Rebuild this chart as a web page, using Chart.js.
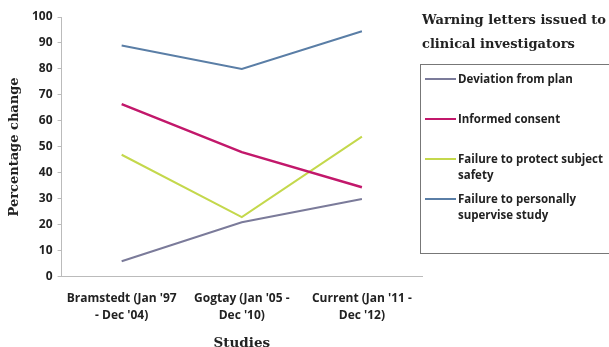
<!DOCTYPE html>
<html>
<head>
<meta charset="utf-8">
<script src="https://cdn.jsdelivr.net/npm/chart.js@4/dist/chart.umd.min.js"></script>
<style>
  html, body { margin: 0; padding: 0; background: #fff; }
  #wrap { position: relative; width: 609px; height: 347px; overflow: hidden; }
  #legendTitle {
    position: absolute; left: 422px; top: 8px; width: 190px;
    font: bold 13px "DejaVu Serif", serif; color: #222; line-height: 24px;
  }
  #legendBox {
    position: absolute; left: 420px; top: 64px; width: 200px; height: 190px;
    border: 1px solid #777; box-sizing: border-box;
  }
  .item { position: absolute; left: 4px; width: 196px; font: bold 11.5px "Open Sans", sans-serif; color: #222; line-height: 16px; white-space: nowrap; }
  .item .swatch { position: absolute; left: 0; top: 7px; width: 31px; height: 2px; }
  .item .txt { margin-left: 33px; display: block; }
</style>
</head>
<body>
<div id="wrap">
  <canvas id="chart" width="609" height="347"></canvas>
  <div id="legendTitle">Warning letters issued to<br>clinical investigators</div>
  <div id="legendBox"></div>
</div>
<script>
// categorias (estudos)
const studies = [
  ["Bramstedt (Jan '97", "- Dec '04)"],
  ["Gogtay (Jan '05 -", "Dec '10)"],
  ["Current (Jan '11 -", "Dec '12)"]
];

// séries
const seriesNames = [
  "Deviation from plan",
  "Informed consent",
  "Failure to protect subject<br>safety",
  "Failure to personally<br>supervise study"
];
const deviation = [6, 21, 30];
const informedConsent = [66.5, 48, 34.5];
const protectSafety = [47, 23, 54];
const supervise = [89, 80, 94.5];
const seriesColors = ["#7b7b9a", "#c2186b", "#c4d84c", "#5a7ea6"];

const yTicks = [0, 10, 20, 30, 40, 50, 60, 70, 80, 90, 100];

const allSeries = [deviation, informedConsent, protectSafety, supervise];

// legenda em HTML
const legendTops = [6, 46, 86, 126];
const legendBox = document.getElementById("legendBox");
seriesNames.forEach((name, i) => {
  const el = document.createElement("div");
  el.className = "item";
  el.style.top = legendTops[i] + "px";
  el.innerHTML = '<span class="swatch" style="background:' + seriesColors[i] + '"></span><span class="txt">' + name + '</span>';
  legendBox.appendChild(el);
});

const tickFont = { family: "Open Sans", size: 12, weight: "bold" };
const serifFont = { family: "DejaVu Serif", size: 13, weight: "bold", lineHeight: 1 };

new Chart(document.getElementById("chart"), {
  type: "line",
  data: {
    labels: studies,
    datasets: allSeries.map((d, i) => ({
      label: seriesNames[i],
      data: d,
      borderColor: seriesColors[i],
      backgroundColor: seriesColors[i],
      borderWidth: i === 1 ? 2.5 : 2,
      pointRadius: 0,
      tension: 0
    }))
  },
  options: {
    responsive: false,
    animation: false,
    layout: { padding: { top: 17, right: 187, left: 6, bottom: -3 } },
    plugins: { legend: { display: false }, tooltip: { enabled: false } },
    scales: {
      x: {
        offset: true,
        grid: { display: false, drawTicks: false },
        border: { display: true, color: "#bbb", dash: [3, 2] },
        ticks: { color: "#222", font: { ...tickFont, lineHeight: 1.4 }, maxRotation: 0, padding: 13 },
        title: {
          display: true, text: "Studies", color: "#222",
          font: { ...serifFont, size: 13.5 },
          padding: { top: 0, bottom: 0 }
        }
      },
      y: {
        min: 0, max: 100,
        afterBuildTicks: (axis) => { axis.ticks = yTicks.map(v => ({ value: v })); },
        grid: { drawOnChartArea: false, tickLength: 4, color: "#bbb" },
        border: { display: true, color: "#bbb", dash: [3, 2] },
        ticks: { color: "#222", font: tickFont, padding: 5 },
        title: {
          display: true, text: "Percentage change", color: "#222",
          font: serifFont,
          padding: { top: 2, bottom: 6 }
        }
      }
    }
  }
});
</script>
</body>
</html>
